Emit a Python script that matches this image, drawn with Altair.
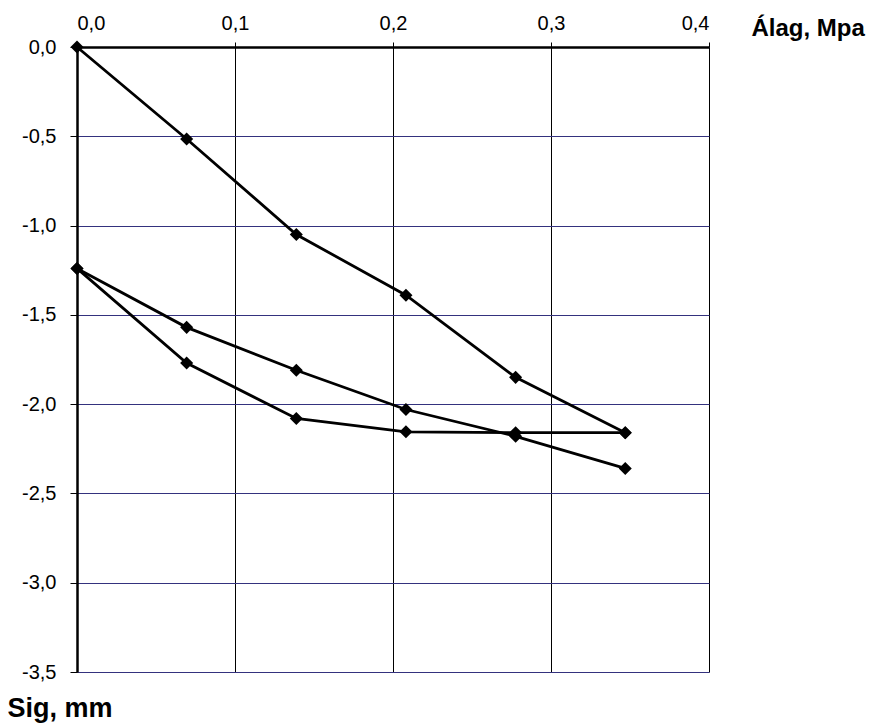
import altair as alt
import pandas as pd

# Load steps (MPa)
alag = [0.0, 0.0694, 0.1388, 0.2082, 0.2776, 0.347]
# Settlement (mm)
loading = [0.0, -0.515, -1.05, -1.39, -1.85, -2.16]
unloading = [-2.16, -2.16, -2.155, -2.08, -1.77, -1.24]
reloading = [-1.24, -1.57, -1.81, -2.03, -2.18, -2.36]

rows = []
for i, (x, y) in enumerate(zip(alag, loading)):
    rows.append({"series": "loading", "order": i, "x": x, "y": y})
for i, (x, y) in enumerate(zip(alag[::-1], unloading)):
    rows.append({"series": "unloading", "order": i, "x": x, "y": y})
for i, (x, y) in enumerate(zip(alag, reloading)):
    rows.append({"series": "reloading", "order": i, "x": x, "y": y})
df = pd.DataFrame(rows)

label_expr = "replace(replace(format(datum.value, '.1f'), '.', ','), '\u2212', '-')"

x_enc = alt.X(
    "x:Q",
    scale=alt.Scale(domain=[0, 0.4], nice=False, zero=False),
    axis=alt.Axis(
        orient="top",
        values=[0, 0.1, 0.2, 0.3, 0.4],
        labelExpr=label_expr,
        title="Álag, Mpa",
        titleAngle=0,
        titleAlign="left",
        titleBaseline="middle",
        titleX=674,
        titleY=-19,
        titleFontWeight="bold",
        titleFontSize=24,
        labelFontSize=20,
        labelPadding=9,
        tickSize=5,
        tickColor="black",
        domainColor="black",
        domainWidth=2.5,
        grid=True,
        gridColor="black",
        gridWidth=1,
    ),
)
y_enc = alt.Y(
    "y:Q",
    scale=alt.Scale(domain=[-3.5, 0], nice=False, zero=False),
    axis=alt.Axis(
        orient="left",
        values=[0, -0.5, -1.0, -1.5, -2.0, -2.5, -3.0, -3.5],
        labelExpr=label_expr,
        title="Sig, mm",
        titleAngle=0,
        titleAlign="left",
        titleBaseline="middle",
        titleX=-70,
        titleY=661,
        titleFontWeight="bold",
        titleFontSize=27,
        labelFontSize=20,
        labelPadding=14,
        tickSize=7,
        tickColor="black",
        domainColor="black",
        domainWidth=2.5,
        grid=True,
        gridColor="#34327e",
        gridWidth=1.2,
    ),
)

lines = alt.Chart(df).mark_line(color="black", strokeWidth=2.8).encode(
    x=x_enc, y=y_enc, detail="series:N", order="order:Q"
)
points = alt.Chart(df).mark_point(
    shape="diamond", filled=True, color="black", size=170, opacity=1
).encode(x="x:Q", y="y:Q")

chart = (
    alt.layer(lines, points)
    .properties(
        width=632,
        height=625,
        autosize=alt.AutoSizeParams(type="none"),
        padding={"left": 69, "top": 39, "right": 160, "bottom": 53},
    )
    .configure_view(stroke="black", strokeWidth=1.5)
    .configure_axis(labelFont="Liberation Sans", titleFont="Liberation Sans",
                    labelColor="black", titleColor="black")
    .configure(background="white")
)

chart.save("out.html", embed_options={"renderer": "svg", "actions": False})
